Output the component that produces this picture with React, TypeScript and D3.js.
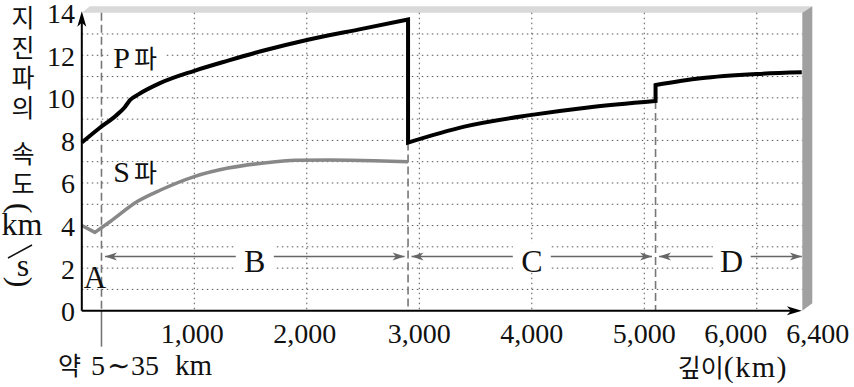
import React from "react";
import * as d3 from "d3";

const W = 854;
const H = 387;

// P wave velocity (km/s) by depth (km), one array pair per layer
const pMantleDepth = [0, 150, 300, 380, 430, 500, 700, 1000, 1300, 1600, 2000, 2500, 2900];
const pMantleVel = [7.9, 8.55, 9.15, 9.55, 9.9, 10.15, 10.7, 11.27, 11.75, 12.2, 12.72, 13.25, 13.68];
const pOuterDepth = [2900, 3400, 4000, 4500, 5100];
const pOuterVel = [7.9, 8.65, 9.2, 9.55, 9.85];
const pInnerDepth = [5100, 5500, 6000, 6400];
const pInnerVel = [10.6, 10.92, 11.12, 11.2];

// S wave velocity (km/s)
const sCrustDepth = [0, 117];
const sCrustVel = [4.0, 3.68];
const sMantleDepth = [117, 250, 500, 700, 1000, 1300, 1600, 1900, 2200, 2600, 2900];
const sMantleVel = [3.68, 4.18, 5.15, 5.67, 6.3, 6.7, 6.93, 7.07, 7.08, 7.05, 7.0];

// axes
const xTickValues = [1000, 2000, 3000, 4000, 5000, 6000, 6400];
const xTickLabels = ["1,000", "2,000", "3,000", "4,000", "5,000", "6,000", "6,400"];
const yTickValues = [0, 2, 4, 6, 8, 10, 12, 14];
const gridXValues = [1000, 2000, 3000, 4000, 5000, 6000];
const gridYValues = [1, 2, 3, 4, 5, 6, 7, 8, 9, 10, 11, 12, 13];

// layers
const mohoDepth = 175; // drawn exaggerated (약 5~35 km)
const layerNames = ["B", "C", "D"];
const layerStart = [175, 2900, 5100];
const layerEnd = [2900, 5100, 6400];
const layerArrowVel = 2.55;

const x = d3.scaleLinear().domain([0, 6400]).range([81.8, 801.8]);
const y = d3.scaleLinear().domain([0, 14]).range([310.7, 12.7]);

const lineGen = (curve: d3.CurveFactory) =>
  d3
    .line<[number, number]>()
    .x((d) => x(d[0]))
    .y((d) => y(d[1]))
    .curve(curve);

// join several segments into one path (vertical jumps between them)
const joinSegs = (segs: string[]) => segs.map((s, i) => (i ? s.replace(/^M/, "L") : s)).join("");

const pPath = joinSegs([
  lineGen(d3.curveMonotoneX)(d3.zip(pMantleDepth, pMantleVel) as [number, number][]) || "",
  lineGen(d3.curveMonotoneX)(d3.zip(pOuterDepth, pOuterVel) as [number, number][]) || "",
  lineGen(d3.curveMonotoneX)(d3.zip(pInnerDepth, pInnerVel) as [number, number][]) || "",
]);
const sPath = joinSegs([
  lineGen(d3.curveLinear)(d3.zip(sCrustDepth, sCrustVel) as [number, number][]) || "",
  lineGen(d3.curveMonotoneX)(d3.zip(sMantleDepth, sMantleVel) as [number, number][]) || "",
]);

const arrowHead = (tx: number, ty: number, dir: number, len = 12, half = 4) =>
  `M${tx},${ty} L${tx - dir * len},${ty - half} L${tx - dir * len * 0.72},${ty} L${tx - dir * len},${ty + half} Z`;

const css = `
  .sf { font-family: "Liberation Serif", "Times New Roman", "DejaVu Serif", serif; }
  .kr { font-family: "Noto Sans CJK KR", "Noto Sans", sans-serif; }
`;

const Chart = () => {
  const x0 = x.range()[0];
  const x1 = x.range()[1] + 0.5;
  const yTop = y(14);
  const yBot = y(0);
  const ay = y(layerArrowVel);
  const tickDx: Record<number, number> = { 1000: -2, 2000: -2, 6000: -21, 6400: 16 };

  return (
    <svg width={W} height={H} style={{ position: "absolute", left: 0, top: 0, background: "#fff" }}>
      <style>{css}</style>
      {/* 3d frame */}
      <polygon
        points={`${x0},${yTop} ${x0 + 8},${yTop - 6.5} ${x1 + 10},${yTop - 6.5} ${x1},${yTop}`}
        fill="#d9d9d9"
      />
      <polygon
        points={`${x1},${yTop} ${x1 + 10},${yTop - 6.5} ${x1 + 10},${yBot - 7.5} ${x1},${yBot}`}
        fill="#a0a0a0"
      />

      {/* grid */}
      <g stroke="#555" strokeWidth={1} strokeDasharray="1.5 3.5">
        {gridYValues.map((v) => (
          <line key={"gy" + v} x1={x0} x2={x1} y1={y(v)} y2={y(v)} />
        ))}
        {gridXValues.map((v) => (
          <line key={"gx" + v} x1={x(v)} x2={x(v)} y1={yTop} y2={yBot} />
        ))}
      </g>

      {/* layer boundaries */}
      <g stroke="#777" strokeWidth={1.6} strokeDasharray="8 4">
        <line x1={x(mohoDepth)} x2={x(mohoDepth)} y1={yTop} y2={yBot} />
        <line x1={x(2900)} x2={x(2900)} y1={y(pOuterVel[0])} y2={yBot} />
        <line x1={x(5100)} x2={x(5100)} y1={y(pOuterVel[pOuterVel.length - 1])} y2={yBot} />
      </g>
      <line x1={x(mohoDepth)} x2={x(mohoDepth)} y1={yBot} y2={yBot + 36} stroke="#777" strokeWidth={1.6} />

      {/* layer arrows */}
      {layerNames.map((name, i) => {
        const a = x(layerStart[i]) + 3.5;
        const b = x(layerEnd[i]) - (i === 2 ? 0 : 3.5);
        const mid = (x(layerStart[i]) + x(layerEnd[i])) / 2 + (i === 2 ? 3 : 0);
        return (
          <g key={name}>
            <line x1={a} x2={b} y1={ay} y2={ay} stroke="#666" strokeWidth={1.5} />
            <path d={arrowHead(a, ay, -1)} fill="#666" />
            <path d={arrowHead(b, ay, 1)} fill="#666" />
            <rect x={mid - 19} y={ay - 14} width={38} height={30} fill="#fff" />
            <text className="sf" x={mid} y={ay + 16} textAnchor="middle" fontSize={32} fill="#111">
              {name}
            </text>
          </g>
        );
      })}

      {/* curves */}
      <path d={sPath} fill="none" stroke="#888" strokeWidth={3.5} strokeLinejoin="round" />
      <path d={pPath} fill="none" stroke="#000" strokeWidth={4} strokeLinejoin="miter" />

      {/* curve labels */}
      <rect x={x(280) - 2} y={y(11.4) - 22} width={54} height={26} fill="#fff" />
      <text x={x(280)} y={y(11.4)} fill="#111">
        <tspan className="sf" fontSize={30}>P</tspan>
        <tspan className="kr" fontSize={25} dx={4}>파</tspan>
      </text>
      <rect x={x(280) - 2} y={y(6.05) - 20} width={54} height={24} fill="#fff" />
      <text x={x(280)} y={y(6.05)} fill="#111">
        <tspan className="sf" fontSize={30}>S</tspan>
        <tspan className="kr" fontSize={25} dx={4}>파</tspan>
      </text>
      <text className="sf" x={x(117)} y={y(1.05)} textAnchor="middle" fontSize={31} fill="#111">
        A
      </text>

      {/* axes */}
      <line x1={x0} x2={x0} y1={yBot} y2={yTop + 4} stroke="#000" strokeWidth={2} />
      <line x1={x0} x2={x.range()[1] - 6} y1={yBot} y2={yBot} stroke="#000" strokeWidth={2} />
      <path d={`M${x0},${yTop - 1.5} L${x0 - 4.5},${yTop + 14} L${x0},${yTop + 10} L${x0 + 4.5},${yTop + 14} Z`} fill="#000" />
      <path d={arrowHead(x.range()[1], yBot, 1, 15, 4.5)} fill="#000" />

      {/* y tick labels */}
      {yTickValues.map((v) => (
        <text key={"yt" + v} className="sf" x={75} y={y(v) + 10.5} textAnchor="end" fontSize={28} fill="#111">
          {v}
        </text>
      ))}

      {/* x tick labels */}
      {xTickValues.map((v, i) => (
        <text
          key={"xt" + v}
          className="sf"
          x={x(v) + (tickDx[v] || 0)}
          y={343}
          textAnchor="middle"
          fontSize={28}
          fill="#111"
        >
          {xTickLabels[i]}
        </text>
      ))}

      {/* moho note */}
      <text y={375} fill="#111">
        <tspan className="kr" x={58} fontSize={25}>약</tspan>
        <tspan className="sf" x={91} fontSize={28}>5</tspan>
        <tspan className="sf" x={107} fontSize={28}>∼</tspan>
        <tspan className="sf" x={131} fontSize={28}>35</tspan>
        <tspan className="sf" x={175} fontSize={29}>km</tspan>
      </text>

      {/* x title */}
      <text x={788} y={377} textAnchor="end" fill="#111">
        <tspan className="kr" fontSize={25}>깊이</tspan>
        <tspan className="sf" fontSize={30} letterSpacing={1.5}>(km)</tspan>
      </text>

      {/* y title, vertical */}
      <g fill="#111">
        <text
          className="kr"
          x={23}
          y={5}
          fontSize={25}
          letterSpacing={5}
          style={{ writingMode: "vertical-rl", textOrientation: "upright" }}
        >
          지진파의
        </text>
        <text
          className="kr"
          x={23}
          y={141}
          fontSize={25}
          letterSpacing={5}
          style={{ writingMode: "vertical-rl", textOrientation: "upright" }}
        >
          속도
        </text>
        <text className="sf" textAnchor="middle" transform="translate(21,208) rotate(90)" fontSize={32} dominantBaseline="central">
          (
        </text>
        <text className="sf" textAnchor="middle" x={22} y={235} fontSize={32}>
          km
        </text>
        <line x1={8} y1={258} x2={32} y2={245} stroke="#111" strokeWidth={1.5} />
        <text className="sf" textAnchor="middle" x={23} y={276} fontSize={32}>
          s
        </text>
        <text className="sf" textAnchor="middle" transform="translate(21,282) rotate(90)" fontSize={32} dominantBaseline="central">
          )
        </text>
      </g>
    </svg>
  );
};

export default function App() {
  return <Chart />;
}
